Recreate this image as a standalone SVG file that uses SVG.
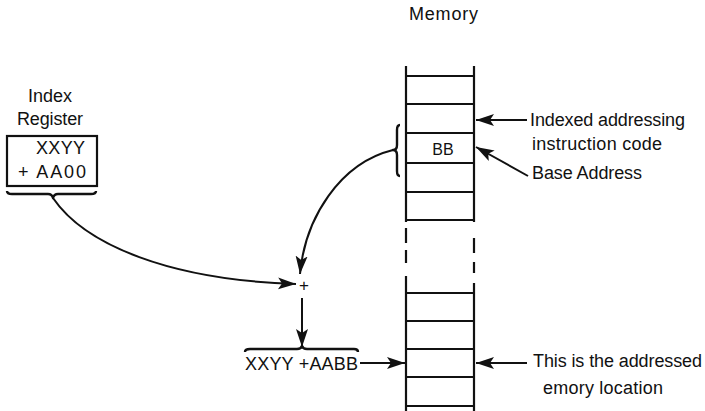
<svg xmlns="http://www.w3.org/2000/svg" width="705" height="411" viewBox="0 0 705 411">
<style>
  text { font-family: "Liberation Sans", Arial, sans-serif; font-size: 18px; fill: #111; }
  .ln { stroke: #111; stroke-width: 2.2; fill: none; stroke-linecap: butt; }
  .th { stroke: #111; stroke-width: 2; fill: none; }
  .br { stroke: #111; stroke-width: 2.4; fill: none; stroke-linejoin: round; }
</style>
<defs>
  <marker id="ah" markerUnits="userSpaceOnUse" markerWidth="20" markerHeight="14" refX="18" refY="7" orient="auto">
    <path d="M0,1 L18,7 L0,13 L4,7 Z" fill="#111"/>
  </marker>
</defs>
<rect width="705" height="411" fill="#fff"/>

<g id="memory">
  <text x="409" y="20" textLength="69">Memory</text>
  <path class="ln" d="M406,66 V222 M406,228 V243 M406,250 V263 M406,276 V411"/>
  <path class="ln" d="M474,66 V222 M474,238 V253 M474,262 V273 M474,283 V411"/>
  <path class="th" d="M406,76 H474 M406,104 H474 M406,133 H474 M406,163 H474 M406,192 H474 M406,220 H474"/>
  <path class="th" d="M406,293 H474 M406,321 H474 M406,349 H474 M406,377 H474 M406,406 H474"/>
  <text x="443" y="155" text-anchor="middle" style="font-size:16px">BB</text>
  <path class="br" d="M400,125 Q397,125 397,130 L397,145 Q397,150 393,150 Q397,150 397,155 L397,171 Q397,176 400,176"/>
</g>

<g id="index-register">
  <text x="28" y="102" textLength="44">Index</text>
  <text x="17" y="125" textLength="66">Register</text>
  <rect x="7" y="136" width="90" height="50" fill="none" stroke="#111" stroke-width="2.2"/>
  <text x="36" y="154" textLength="49">XXYY</text>
  <text x="18" y="178" textLength="68">+ AA00</text>
  <path class="br" d="M7,191 Q7,194 12,194 L48,194 Q52,194 53,198 Q54,194 58,194 L91,194 Q96,194 96,191"/>
</g>

<g id="adder">
  <text x="304" y="291" text-anchor="middle" style="font-size:17px">+</text>
</g>

<g id="result">
  <path class="br" d="M245,352 Q245,349 250,349 L297,349 Q301,349 302,346 Q303,349 307,349 L354,349 Q358,349 358,352"/>
  <text x="245" y="370" textLength="113">XXYY +AABB</text>
</g>

<g id="labels">
  <text x="530" y="126" textLength="155">Indexed addressing</text>
  <text x="532" y="150" textLength="130">instruction code</text>
  <text x="532" y="179" textLength="110">Base Address</text>
  <text x="533" y="367" textLength="169">This is the addressed</text>
  <text x="543" y="394" textLength="120">emory location</text>
</g>

<g id="connectors">
  <path class="th" d="M53,198 C85,245 170,280 296,284" marker-end="url(#ah)"/>
  <path class="th" d="M393,150 C340,163 305,218 300,274" marker-end="url(#ah)"/>
  <path class="th" d="M302,298 V347" marker-end="url(#ah)"/>
  <path class="th" d="M360,363 H405" marker-end="url(#ah)"/>
  <path class="th" d="M527,120 H476" marker-end="url(#ah)"/>
  <path class="th" d="M528,176 L476,147" marker-end="url(#ah)"/>
  <path class="th" d="M527,363 H476" marker-end="url(#ah)"/>
</g>
</svg>
